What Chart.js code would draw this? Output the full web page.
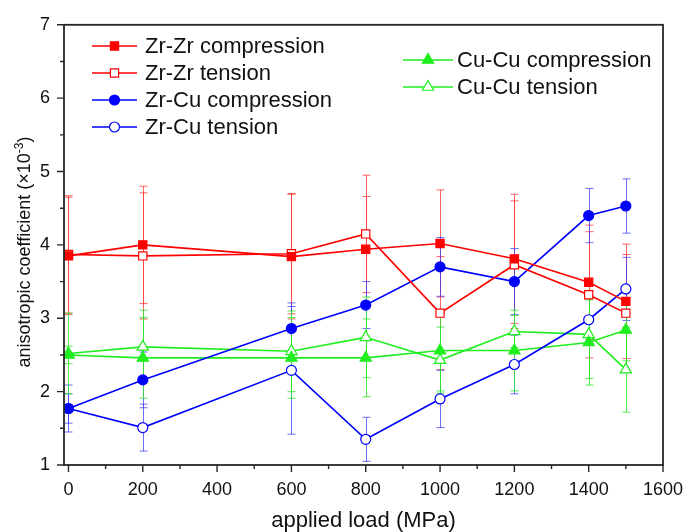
<!DOCTYPE html>
<html>
<head>
<meta charset="utf-8">
<script src="https://cdn.jsdelivr.net/npm/chart.js@4.4.0/dist/chart.umd.min.js"></script>
<style>
  html, body { margin: 0; padding: 0; background: #fff; }
</style>
</head>
<body>
<canvas id="chart" width="686" height="532"></canvas>
<script>
// applied load (MPa)
const loads = [0, 200, 600, 800, 1000, 1200, 1400, 1500];

// anisotropic coefficient (x10^-3) and error bar half-widths
const zrzr_comp = [3.85, 4.00, 3.84, 3.94, 4.02, 3.81, 3.49, 3.23];
const zrzr_comp_err = [0.80, 0.80, 0.85, 0.72, 0.73, 0.88, 0.78, 0.78];
const zrzr_ten = [3.87, 3.85, 3.88, 4.15, 3.07, 3.73, 3.32, 3.07];
const zrzr_ten_err = [0.80, 0.86, 0.82, 0.80, 0.77, 0.87, 0.86, 0.80];
const zrcu_comp = [1.77, 2.16, 2.86, 3.18, 3.70, 3.50, 4.40, 4.53];
const zrcu_comp_err = [0.20, 0.38, 0.35, 0.32, 0.40, 0.45, 0.37, 0.37];
const zrcu_ten = [1.77, 1.51, 2.29, 1.35, 1.90, 2.37, 2.98, 3.40];
const zrcu_ten_err = [0.32, 0.32, 0.87, 0.30, 0.39, 0.40, 0.33, 0.43];
const cucu_comp = [2.50, 2.46, 2.46, 2.46, 2.56, 2.56, 2.67, 2.84];
const cucu_comp_err = [0.12, 0.55, 0.55, 0.53, 0.55, 0.55, 0.58, 0.42];
const cucu_ten = [2.52, 2.61, 2.55, 2.74, 2.43, 2.82, 2.78, 2.30];
const cucu_ten_err = [0.55, 0.50, 0.55, 0.55, 0.45, 0.22, 0.60, 0.58];

const x_ticks = [0, 200, 400, 600, 800, 1000, 1200, 1400, 1600];
const x_minor = [100, 300, 500, 700, 900, 1100, 1300, 1500];
const y_ticks = [1, 2, 3, 4, 5, 6, 7];
const y_minor = [1.5, 2.5, 3.5, 4.5, 5.5, 6.5];

const RED = '#ff0000', BLUE = '#0000ff', GREEN = '#1fee1f';
const FONT = '"Liberation Sans", Arial, sans-serif';

function series(label, values, errors, color, errColor, shape, open) {
  return {
    label: label,
    data: loads.map((x, i) => ({x: x, y: values[i]})),
    errors: errors,
    errColor: errColor,
    borderColor: color,
    backgroundColor: color,
    borderWidth: 1.6,
    pointStyle: shape,
    pointRadius: shape === 'rect' ? 5.8 : (shape === 'triangle' ? 6.5 : 5),
    pointBackgroundColor: open ? '#fff' : color,
    pointBorderColor: color,
    pointBorderWidth: 1.2,
    tension: 0
  };
}

const datasets = [
  series('Zr-Zr compression', zrzr_comp, zrzr_comp_err, RED, 'rgba(255,60,60,0.8)', 'rect', false),
  series('Zr-Zr tension', zrzr_ten, zrzr_ten_err, RED, 'rgba(255,60,60,0.8)', 'rect', true),
  series('Zr-Cu compression', zrcu_comp, zrcu_comp_err, BLUE, 'rgba(60,60,255,0.75)', 'circle', false),
  series('Zr-Cu tension', zrcu_ten, zrcu_ten_err, BLUE, 'rgba(60,60,255,0.75)', 'circle', true),
  series('Cu-Cu compression', cucu_comp, cucu_comp_err, GREEN, 'rgba(40,230,40,0.8)', 'triangle', false),
  series('Cu-Cu tension', cucu_ten, cucu_ten_err, GREEN, 'rgba(40,230,40,0.8)', 'triangle', true)
];

// vertical error bars with caps, drawn under the lines
const errorBars = {
  id: 'errorBars',
  beforeDatasetsDraw(chart) {
    const {ctx, scales: {x, y}} = chart;
    ctx.save();
    ctx.lineWidth = 1;
    chart.data.datasets.forEach(ds => {
      ctx.strokeStyle = ds.errColor;
      ds.data.forEach((p, i) => {
        const px = Math.round(x.getPixelForValue(p.x)) + 0.5;
        const top = y.getPixelForValue(p.y + ds.errors[i]);
        const bot = y.getPixelForValue(p.y - ds.errors[i]);
        ctx.beginPath();
        ctx.moveTo(px, top); ctx.lineTo(px, bot);
        ctx.moveTo(px - 4, top); ctx.lineTo(px + 4, top);
        ctx.moveTo(px - 4, bot); ctx.lineTo(px + 4, bot);
        ctx.stroke();
      });
    });
    ctx.restore();
  }
};

// frame round the plot, outward major/minor ticks, y title with superscript
const frame = {
  id: 'frame',
  afterDraw(chart) {
    const {ctx, chartArea: a, scales: {x, y}} = chart;
    ctx.save();
    ctx.strokeStyle = '#262626';
    ctx.lineWidth = 1.8;
    ctx.strokeRect(a.left, a.top, a.right - a.left, a.bottom - a.top);
    ctx.lineWidth = 1.4;
    ctx.beginPath();
    x_ticks.forEach(v => { const px = x.getPixelForValue(v); ctx.moveTo(px, a.bottom); ctx.lineTo(px, a.bottom + 7); });
    x_minor.forEach(v => { const px = x.getPixelForValue(v); ctx.moveTo(px, a.bottom); ctx.lineTo(px, a.bottom + 4); });
    y_ticks.forEach(v => { const py = y.getPixelForValue(v); ctx.moveTo(a.left, py); ctx.lineTo(a.left - 7, py); });
    y_minor.forEach(v => { const py = y.getPixelForValue(v); ctx.moveTo(a.left, py); ctx.lineTo(a.left - 4, py); });
    ctx.stroke();

    const main = 'anisotropic coefficient (\u00d710', sup = '-3', tail = ')';
    ctx.fillStyle = '#111';
    ctx.textBaseline = 'alphabetic';
    ctx.textAlign = 'left';
    ctx.font = '18px ' + FONT;
    const wMain = ctx.measureText(main).width, wTail = ctx.measureText(tail).width;
    ctx.font = '12px ' + FONT;
    const wSup = ctx.measureText(sup).width;
    ctx.translate(30, 252);
    ctx.rotate(-Math.PI / 2);
    let tx = -(wMain + wSup + wTail) / 2;
    ctx.font = '18px ' + FONT;
    ctx.fillText(main, tx, 0);
    tx += wMain;
    ctx.font = '12px ' + FONT;
    ctx.fillText(sup, tx, -7);
    tx += wSup;
    ctx.font = '18px ' + FONT;
    ctx.fillText(tail, tx, 0);
    ctx.restore();
  }
};

function drawMarker(ctx, ds, cx, cy) {
  const r = ds.pointRadius;
  ctx.beginPath();
  if (ds.pointStyle === 'rect') {
    const s = r * Math.SQRT1_2;
    ctx.rect(cx - s, cy - s, 2 * s, 2 * s);
  } else if (ds.pointStyle === 'triangle') {
    ctx.moveTo(cx, cy - r);
    ctx.lineTo(cx + r * 0.866, cy + r * 0.5);
    ctx.lineTo(cx - r * 0.866, cy + r * 0.5);
    ctx.closePath();
  } else {
    ctx.arc(cx, cy, r, 0, Math.PI * 2);
  }
  ctx.fillStyle = ds.pointBackgroundColor;
  ctx.fill();
  ctx.lineWidth = ds.pointBorderWidth;
  ctx.strokeStyle = ds.pointBorderColor;
  ctx.stroke();
}

// two legend blocks inside the plot
const legendSpots = [
  {x0: 92, x1: 137, tx: 145, y: 46},
  {x0: 92, x1: 137, tx: 145, y: 73},
  {x0: 92, x1: 137, tx: 145, y: 100},
  {x0: 92, x1: 137, tx: 145, y: 127},
  {x0: 403, x1: 453, tx: 457, y: 60},
  {x0: 403, x1: 453, tx: 457, y: 87}
];
const legendBlocks = {
  id: 'legendBlocks',
  afterDraw(chart) {
    const ctx = chart.ctx;
    ctx.save();
    chart.data.datasets.forEach((ds, i) => {
      const s = legendSpots[i];
      ctx.strokeStyle = ds.borderColor;
      ctx.lineWidth = 1.6;
      ctx.beginPath();
      ctx.moveTo(s.x0, s.y); ctx.lineTo(s.x1, s.y);
      ctx.stroke();
      drawMarker(ctx, ds, (s.x0 + s.x1) / 2, s.y);
      ctx.fillStyle = '#111';
      ctx.font = '22px ' + FONT;
      ctx.textBaseline = 'middle';
      ctx.textAlign = 'left';
      ctx.fillText(ds.label, s.tx, s.y + 1);
    });
    ctx.restore();
  }
};

new Chart(document.getElementById('chart'), {
  type: 'line',
  data: {datasets: datasets},
  plugins: [errorBars, frame, legendBlocks],
  options: {
    responsive: false,
    animation: false,
    layout: {padding: {left: 0, right: 23, top: 22, bottom: 0}},
    plugins: {legend: {display: false}, tooltip: {enabled: false}},
    scales: {
      x: {
        type: 'linear',
        min: -12,
        max: 1600,
        grid: {display: false, drawTicks: false},
        border: {display: false},
        afterBuildTicks: s => { s.ticks = x_ticks.map(v => ({value: v})); },
        afterFit: s => { s.height = 67; s.paddingLeft = 0; s.paddingRight = 0; },
        ticks: {
          padding: 14, color: '#111', font: {family: FONT, size: 18}, maxRotation: 0, autoSkip: false,
          callback: v => String(v)
        },
        title: {
          display: true,
          text: 'applied load (MPa)',
          color: '#111',
          font: {family: FONT, size: 22, lineHeight: 1},
          padding: {top: 0, bottom: 0}
        }
      },
      y: {
        min: 1,
        max: 7,
        grid: {display: false, drawTicks: false},
        border: {display: false},
        afterBuildTicks: s => { s.ticks = y_ticks.map(v => ({value: v})); },
        afterFit: s => { s.width = 64; },
        ticks: {padding: 14, color: '#111', font: {family: FONT, size: 18}, callback: v => String(v)}
      }
    }
  }
});
</script>
</body>
</html>
